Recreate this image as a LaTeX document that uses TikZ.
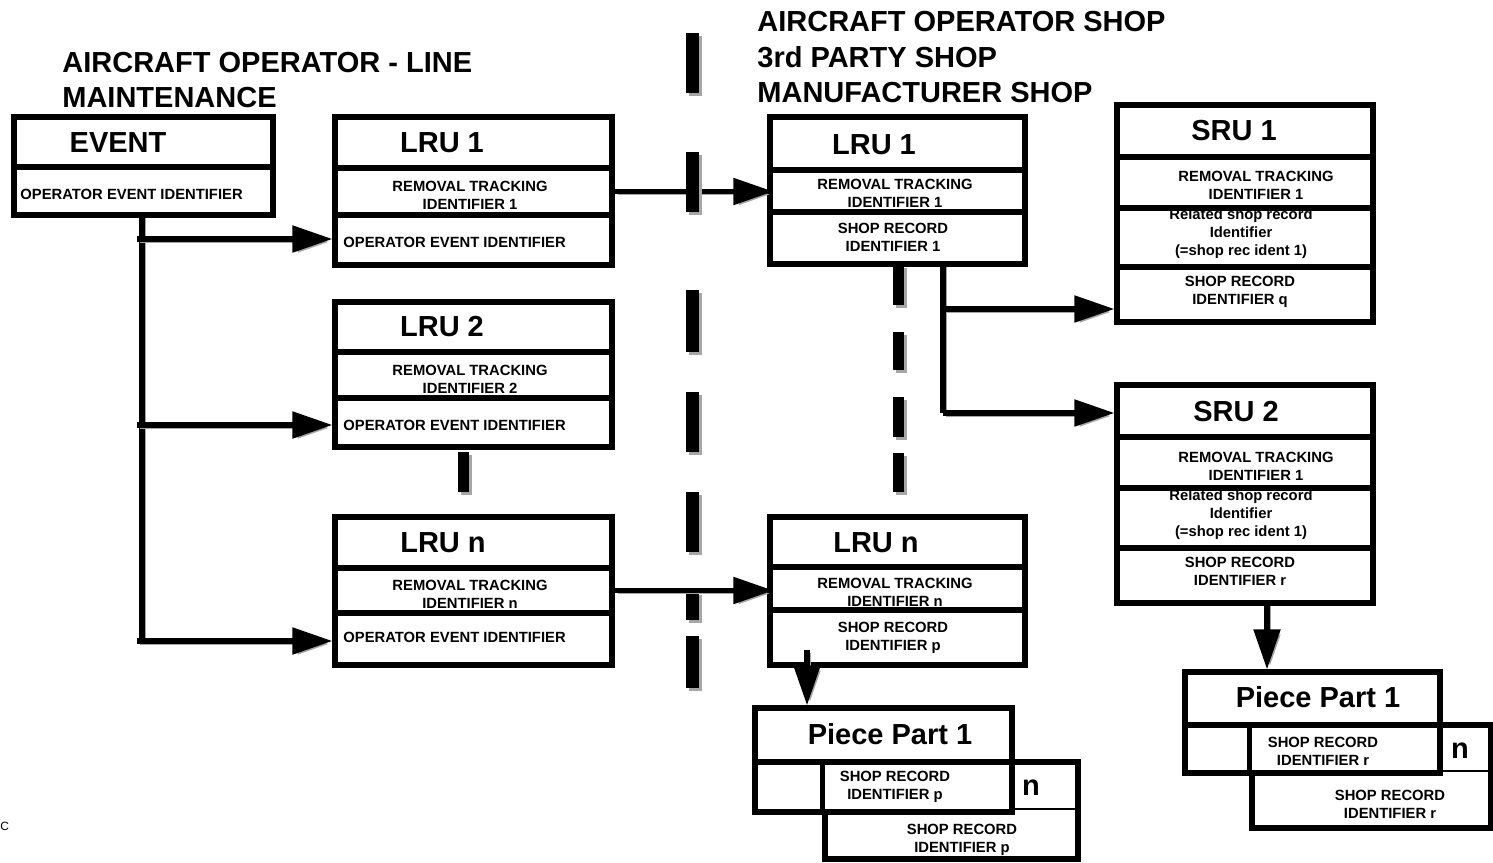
\documentclass[tikz,border=0pt]{standalone}
\usepackage{fontspec}
\setmainfont{Liberation Sans}
\usetikzlibrary{fit,shadows,arrows.meta}

\begin{document}
\begin{tikzpicture}[x=0.5pt,y=-0.5pt,
  box/.style={draw=black, line width=2.6pt, fill=white, inner sep=0pt,
    general shadow={shadow xshift=1.5pt, shadow yshift=-1.5pt, fill=black!35}},
  head/.style={font=\bfseries\fontsize{14.5}{17}\selectfont, inner sep=0pt},
  title/.style={font=\bfseries\fontsize{14.5}{17.5}\selectfont, inner sep=0pt, align=left},
  small/.style={font=\bfseries\fontsize{7.4}{9}\selectfont, inner sep=0pt, align=center},
  conn/.style={line width=2.6pt, -{Triangle[length=20pt,width=13pt]},
    preaction={draw=black!35, transform canvas={shift={(1.5pt,-1.5pt)}}}},
  plain/.style={line width=2.6pt,
    preaction={draw=black!35, transform canvas={shift={(1.5pt,-1.5pt)}}}},
  bar/.style={fill=black, preaction={fill=black!35, transform canvas={shift={(1.5pt,-1.5pt)}}}}]
\useasboundingbox (0,0) rectangle (1493,862);

% ---------- titles ----------
\node[title, anchor=base west] (tleft1) at (62,72) {AIRCRAFT OPERATOR - LINE};
\node[title, anchor=base west] (tleft2) at (62,107) {MAINTENANCE};
\node[title, anchor=base west] (tright1) at (757,32) {AIRCRAFT OPERATOR SHOP};
\node[title, anchor=base west] (tright2) at (757,67) {3rd PARTY SHOP};
\node[title, anchor=base west] (tright3) at (757,102) {MANUFACTURER SHOP};

% ---------- separators ----------
\foreach \a/\b in {33/93, 152/212, 290/352, 392/452, 492/552, 592/620, 636/688}
  \fill[bar] (686,\a) rectangle (699,\b);
\foreach \a/\b in {265/305, 332/370, 397/437, 453/492}
  \fill[bar] (893,\a) rectangle (904,\b);
\fill[bar] (458,452) rectangle (469,492);

% ---------- event ----------
\node[box, fit={(14,117) (273,167)}] (evh) {};
\node[box, fit={(14,167) (273,215)}] (evo) {};
\node[head] (evht) at (118,143) {EVENT};
\node[small, anchor=west] (evot) at (20,194) {OPERATOR EVENT IDENTIFIER};

% ---------- line maintenance LRUs ----------
\node[box, fit={(335,117) (612,168)}] (l1h) {};
\node[box, fit={(335,168) (612,215)}] (l1r) {};
\node[box, fit={(335,215) (612,265)}] (l1o) {};
\node[head] (l1ht) at (442,143) {LRU 1};
\node[small] (l1rt) at (470,195) {REMOVAL TRACKING\\IDENTIFIER 1};
\node[small, anchor=west] (l1ot) at (343,242) {OPERATOR EVENT IDENTIFIER};

\node[box, fit={(335,302) (612,352)}] (l2h) {};
\node[box, fit={(335,352) (612,398)}] (l2r) {};
\node[box, fit={(335,398) (612,447)}] (l2o) {};
\node[head] (l2ht) at (442,327) {LRU 2};
\node[small] (l2rt) at (470,379) {REMOVAL TRACKING\\IDENTIFIER 2};
\node[small, anchor=west] (l2ot) at (343,425) {OPERATOR EVENT IDENTIFIER};

\node[box, fit={(335,517) (612,568)}] (lnh) {};
\node[box, fit={(335,568) (612,613)}] (lnr) {};
\node[box, fit={(335,613) (612,665)}] (lno) {};
\node[head] (lnht) at (443,543) {LRU n};
\node[small] (lnrt) at (470,594) {REMOVAL TRACKING\\IDENTIFIER n};
\node[small, anchor=west] (lnot) at (343,637) {OPERATOR EVENT IDENTIFIER};

% ---------- shop LRUs ----------
\node[box, fit={(770,117) (1025,170)}] (r1h) {};
\node[box, fit={(770,170) (1025,212)}] (r1r) {};
\node[box, fit={(770,212) (1025,264)}] (r1s) {};
\node[head] (r1ht) at (874,145) {LRU 1};
\node[small] (r1rt) at (895,193) {REMOVAL TRACKING\\IDENTIFIER 1};
\node[small] (r1st) at (893,237) {SHOP RECORD\\IDENTIFIER 1};

\node[box, fit={(770,517) (1025,567)}] (rnh) {};
\node[box, fit={(770,567) (1025,610)}] (rnr) {};
\node[box, fit={(770,610) (1025,665)}] (rns) {};
\node[head] (rnht) at (876,543) {LRU n};
\node[small] (rnrt) at (895,592) {REMOVAL TRACKING\\IDENTIFIER n};
\node[small] (rnst) at (893,638) {SHOP RECORD\\IDENTIFIER p};

% ---------- SRUs ----------
\node[box, fit={(1117,105) (1373,157)}] (s1h) {};
\node[box, fit={(1117,157) (1373,208)}] (s1r) {};
\node[box, fit={(1117,208) (1373,267)}] (s1l) {};
\node[box, fit={(1117,267) (1373,322)}] (s1s) {};
\node[head] (s1ht) at (1234,131) {SRU 1};
\node[small] (s1rt) at (1256,185) {REMOVAL TRACKING\\IDENTIFIER 1};
\node[small] (s1lt) at (1241,234) {Related shop record\\Identifier\\(=shop rec ident 1)};
\node[small] (s1st) at (1240,292) {SHOP RECORD\\IDENTIFIER q};

\node[box, fit={(1117,385) (1373,437)}] (s2h) {};
\node[box, fit={(1117,437) (1373,488)}] (s2r) {};
\node[box, fit={(1117,488) (1373,548)}] (s2l) {};
\node[box, fit={(1117,548) (1373,603)}] (s2s) {};
\node[head] (s2ht) at (1236,412) {SRU 2};
\node[small] (s2rt) at (1256,466) {REMOVAL TRACKING\\IDENTIFIER 1};
\node[small] (s2lt) at (1241,515) {Related shop record\\Identifier\\(=shop rec ident 1)};
\node[small] (s2st) at (1240,571) {SHOP RECORD\\IDENTIFIER r};

% ---------- piece parts (stacked cards) ----------
\node[box, fit={(825,762) (1078,859)}] (pab) {};
\draw[line width=1.2pt] (1012,809) -- (1078,809);
\node[box, fit={(755,708) (1012,762)}] (pah) {};
\node[box, fit={(755,762) (1012,812)}] (pas) {};
\draw[line width=2.6pt] (pab.north west) -- (pab.west |- pas.south);
\node[head] (paht) at (890,734) {Piece Part 1};
\node[small] (past) at (895,787) {SHOP RECORD\\IDENTIFIER p};
\node[head] (pan) at (1031,788) {n};
\node[small] (pabt) at (962,840) {SHOP RECORD\\IDENTIFIER p};

\node[box, fit={(1252,725) (1491,828)}] (pbb) {};
\draw[line width=1.2pt] (1440,771) -- (1491,771);
\node[box, fit={(1185,672) (1440,725)}] (pbh) {};
\node[box, fit={(1185,725) (1440,773)}] (pbs) {};
\draw[line width=2.6pt] (pbb.north west) -- (pbb.west |- pbs.south);
\node[head] (pbht) at (1318,697) {Piece Part 1};
\node[small] (pbst) at (1323,751) {SHOP RECORD\\IDENTIFIER r};
\node[head] (pbn) at (1460,751) {n};
\node[small] (pbbt) at (1390,804) {SHOP RECORD\\IDENTIFIER r};

% ---------- connectors ----------
\coordinate (spine) at (142,215);
\coordinate (spineend) at (142,642);
\draw[plain] (spine) -- (spineend);
\coordinate (in1) at (137,239);
\coordinate (in2) at (137,425);
\coordinate (in3) at (137,641);
\draw[conn] (in1) -- (in1 -| l1o.west);
\draw[conn] (in2) -- (in2 -| l2o.west);
\draw[conn] (in3) -- (in3 -| lno.west);

\coordinate (out1) at (l1r.east);
\coordinate (outn) at (lnr.east);
\draw[conn] (out1) -- ([xshift=3pt]out1 -| r1r.west);
\draw[conn] (outn) -- ([xshift=3pt]outn -| rnr.west);
\fill[bar] (686,152) rectangle (699,212);

\coordinate (branch) at (943,264);
\coordinate (sru1in) at (943,309);
\coordinate (sru2in) at (943,413);
\draw[plain] (branch) -- (sru2in);
\draw[conn] (sru1in) -- (sru1in -| s1s.west);
\draw[conn] (sru2in) -- (sru2in -| s2h.west);

\coordinate (ppa) at (807,650);
\draw[conn] (ppa) -- (ppa |- pah.north);
\coordinate (ppb) at (1267,603);
\draw[conn] (ppb) -- (ppb |- pbh.north);

% edge mark
\node[font=\fontsize{6}{7}\selectfont, inner sep=0pt, anchor=west] (frag) at (0,826) {C};
\end{tikzpicture}
\end{document}
